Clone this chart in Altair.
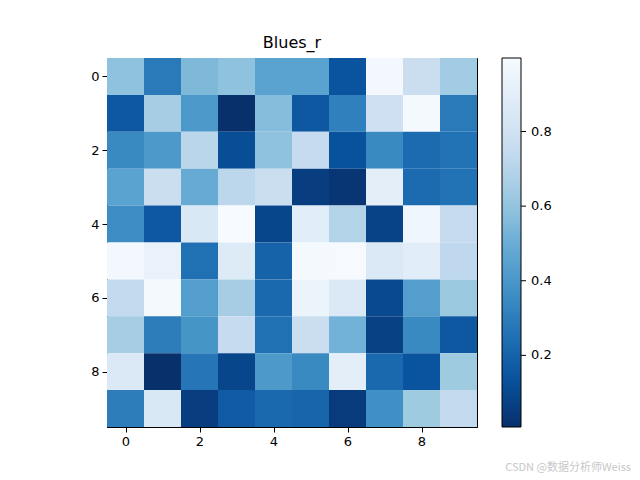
import altair as alt
import pandas as pd

row0 = [0.59, 0.29, 0.55, 0.59, 0.45, 0.45, 0.14, 0.97, 0.77, 0.64]
row1 = [0.16, 0.65, 0.41, 0.008, 0.57, 0.16, 0.31, 0.79, 0.98, 0.29]
row2 = [0.35, 0.41, 0.71, 0.12, 0.59, 0.75, 0.13, 0.35, 0.23, 0.26]
row3 = [0.45, 0.77, 0.49, 0.72, 0.77, 0.06, 0.03, 0.90, 0.23, 0.26]
row4 = [0.36, 0.16, 0.85, 0.997, 0.09, 0.89, 0.69, 0.08, 0.96, 0.75]
row5 = [0.97, 0.93, 0.25, 0.87, 0.20, 0.98, 0.99, 0.86, 0.89, 0.73]
row6 = [0.74, 0.98, 0.43, 0.65, 0.22, 0.94, 0.86, 0.10, 0.43, 0.62]
row7 = [0.65, 0.30, 0.39, 0.75, 0.25, 0.77, 0.52, 0.07, 0.35, 0.16]
row8 = [0.86, 0.01, 0.27, 0.09, 0.41, 0.35, 0.90, 0.22, 0.14, 0.63]
row9 = [0.30, 0.85, 0.06, 0.17, 0.22, 0.21, 0.05, 0.37, 0.63, 0.74]
rows = [row0, row1, row2, row3, row4, row5, row6, row7, row8, row9]

cbar_ticks = [0.2, 0.4, 0.6, 0.8]

blues_r = ["#08306b", "#08519c", "#2171b5", "#4292c6", "#6baed6",
           "#9ecae1", "#c6dbef", "#deebf7", "#f7fbff"]

records = []
for r, row in enumerate(rows):
    for c, v in enumerate(row):
        records.append({"row": r, "col": c, "value": v})
df = pd.DataFrame(records)

vmin = float(df["value"].min())
vmax = float(df["value"].max())
stops = [vmin + i * (vmax - vmin) / 8 for i in range(9)]

FONT = "DejaVu Sans"

heat = alt.Chart(df).transform_calculate(
    x0="datum.col - 0.5", x1="datum.col + 0.5",
    y0="datum.row - 0.5", y1="datum.row + 0.5",
).mark_rect().encode(
    x=alt.X("x0:Q", scale=alt.Scale(domain=[-0.5, 9.5], nice=False, zero=False),
            axis=alt.Axis(values=[0, 2, 4, 6, 8], format="d", title=None, grid=False,
                          tickSize=5, labelPadding=3)),
    x2="x1:Q",
    y=alt.Y("y0:Q", scale=alt.Scale(domain=[-0.5, 9.5], nice=False, zero=False, reverse=True),
            axis=alt.Axis(values=[0, 2, 4, 6, 8], format="d", title=None, grid=False,
                          tickSize=5, labelPadding=3)),
    y2="y1:Q",
    color=alt.Color("value:Q",
                    scale=alt.Scale(domain=stops, range=blues_r, interpolate="rgb"),
                    legend=alt.Legend(title=None, orient="none", legendX=395, legendY=0,
                                      direction="vertical", gradientLength=369,
                                      gradientThickness=19, gradientStrokeColor="black",
                                      gradientStrokeWidth=1, values=cbar_ticks,
                                      format=".1f", labelFontSize=13, labelFont=FONT,
                                      labelColor="black", labelOffset=10)),
)

ticks = alt.Chart(pd.DataFrame({"v": cbar_ticks})).mark_rule(
    color="black", strokeWidth=1
).encode(
    y=alt.Y("v:Q", scale=alt.Scale(domain=[vmin, vmax], nice=False, zero=False), axis=None),
    x=alt.value(414), x2=alt.value(419),
)

mark = alt.Chart(pd.DataFrame({"t": ["CSDN @数据分析师Weiss"]})).mark_text(
    align="right", baseline="middle", fontSize=11, color="#c8c8c8",
    font="Noto Sans CJK SC"
).encode(text="t:N", x=alt.value(524), y=alt.value(410))

chart = alt.layer(heat, ticks, mark).resolve_scale(y="independent").properties(
    width=370, height=369,
    title=alt.TitleParams("Blues_r", font=FONT, fontSize=16, fontWeight="normal",
                          color="black", offset=7),
    autosize=alt.AutoSizeParams(type="none"),
    padding={"left": 99, "top": 50, "right": 155, "bottom": 60},
).configure_view(stroke="black", strokeWidth=1, clip=False).configure_axis(
    labelFont=FONT, labelFontSize=13, labelColor="black", domainColor="black",
    tickColor="black", domain=True
)

chart.save("out.html", embed_options={"renderer": "svg", "actions": False})
